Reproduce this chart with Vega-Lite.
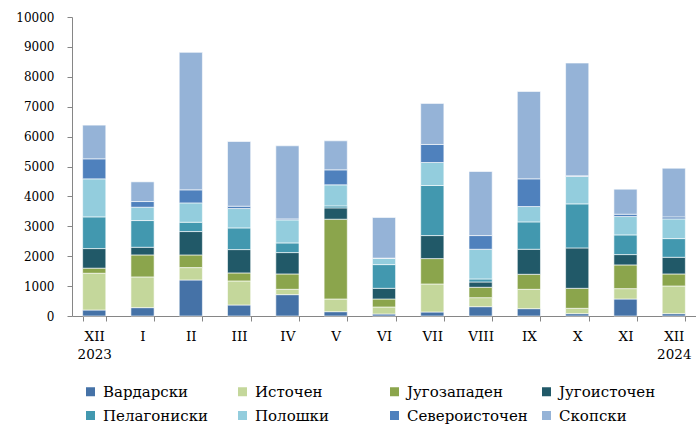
{
  "$schema": "https://vega.github.io/schema/vega-lite/v6.json",
  "width": 624,
  "height": 299,
  "padding": {"left": 15, "top": 11, "right": 0, "bottom": 0},
  "background": "white",
  "config": {
    "view": {"stroke": null},
    "font": "DejaVu Serif"
  },
  "data": {
    "values": [
      {"m":"XII 2023","r":"Вардарски","o":1,"v":200},{"m":"XII 2023","r":"Источен","o":2,"v":1230},{"m":"XII 2023","r":"Југозападен","o":3,"v":170},{"m":"XII 2023","r":"Југоисточен","o":4,"v":655},{"m":"XII 2023","r":"Пелагониски","o":5,"v":1060},{"m":"XII 2023","r":"Полошки","o":6,"v":1272},{"m":"XII 2023","r":"Североисточен","o":7,"v":670},{"m":"XII 2023","r":"Скопски","o":8,"v":1127},
      {"m":"I","r":"Вардарски","o":1,"v":280},{"m":"I","r":"Источен","o":2,"v":1026},{"m":"I","r":"Југозападен","o":3,"v":736},{"m":"I","r":"Југоисточен","o":4,"v":257},{"m":"I","r":"Пелагониски","o":5,"v":893},{"m":"I","r":"Полошки","o":6,"v":446},{"m":"I","r":"Североисточен","o":7,"v":190},{"m":"I","r":"Скопски","o":8,"v":659},
      {"m":"II","r":"Вардарски","o":1,"v":1205},{"m":"II","r":"Источен","o":2,"v":413},{"m":"II","r":"Југозападен","o":3,"v":424},{"m":"II","r":"Југоисточен","o":4,"v":782},{"m":"II","r":"Пелагониски","o":5,"v":312},{"m":"II","r":"Полошки","o":6,"v":647},{"m":"II","r":"Североисточен","o":7,"v":436},{"m":"II","r":"Скопски","o":8,"v":4598},
      {"m":"III","r":"Вардарски","o":1,"v":368},{"m":"III","r":"Источен","o":2,"v":804},{"m":"III","r":"Југозападен","o":3,"v":268},{"m":"III","r":"Југоисточен","o":4,"v":781},{"m":"III","r":"Пелагониски","o":5,"v":725},{"m":"III","r":"Полошки","o":6,"v":648},{"m":"III","r":"Североисточен","o":7,"v":78},{"m":"III","r":"Скопски","o":8,"v":2165},
      {"m":"IV","r":"Вардарски","o":1,"v":714},{"m":"IV","r":"Источен","o":2,"v":179},{"m":"IV","r":"Југозападен","o":3,"v":513},{"m":"IV","r":"Југоисточен","o":4,"v":715},{"m":"IV","r":"Пелагониски","o":5,"v":323},{"m":"IV","r":"Полошки","o":6,"v":770},{"m":"IV","r":"Североисточен","o":7,"v":34},{"m":"IV","r":"Скопски","o":8,"v":2444},
      {"m":"V","r":"Вардарски","o":1,"v":145},{"m":"V","r":"Источен","o":2,"v":424},{"m":"V","r":"Југозападен","o":3,"v":2668},{"m":"V","r":"Југоисточен","o":4,"v":379},{"m":"V","r":"Пелагониски","o":5,"v":67},{"m":"V","r":"Полошки","o":6,"v":703},{"m":"V","r":"Североисточен","o":7,"v":502},{"m":"V","r":"Скопски","o":8,"v":971},
      {"m":"VI","r":"Вардарски","o":1,"v":67},{"m":"VI","r":"Источен","o":2,"v":234},{"m":"VI","r":"Југозападен","o":3,"v":268},{"m":"VI","r":"Југоисточен","o":4,"v":357},{"m":"VI","r":"Пелагониски","o":5,"v":793},{"m":"VI","r":"Полошки","o":6,"v":212},{"m":"VI","r":"Североисточен","o":7,"v":5},{"m":"VI","r":"Скопски","o":8,"v":1361},
      {"m":"VII","r":"Вардарски","o":1,"v":134},{"m":"VII","r":"Источен","o":2,"v":937},{"m":"VII","r":"Југозападен","o":3,"v":849},{"m":"VII","r":"Југоисточен","o":4,"v":770},{"m":"VII","r":"Пелагониски","o":5,"v":1674},{"m":"VII","r":"Полошки","o":6,"v":770},{"m":"VII","r":"Североисточен","o":7,"v":603},{"m":"VII","r":"Скопски","o":8,"v":1372},
      {"m":"VIII","r":"Вардарски","o":1,"v":312},{"m":"VIII","r":"Источен","o":2,"v":302},{"m":"VIII","r":"Југозападен","o":3,"v":346},{"m":"VIII","r":"Југоисточен","o":4,"v":178},{"m":"VIII","r":"Пелагониски","o":5,"v":101},{"m":"VIII","r":"Полошки","o":6,"v":993},{"m":"VIII","r":"Североисточен","o":7,"v":458},{"m":"VIII","r":"Скопски","o":8,"v":2143},
      {"m":"IX","r":"Вардарски","o":1,"v":246},{"m":"IX","r":"Источен","o":2,"v":647},{"m":"IX","r":"Југозападен","o":3,"v":502},{"m":"IX","r":"Југоисточен","o":4,"v":837},{"m":"IX","r":"Пелагониски","o":5,"v":915},{"m":"IX","r":"Полошки","o":6,"v":514},{"m":"IX","r":"Североисточен","o":7,"v":926},{"m":"IX","r":"Скопски","o":8,"v":2924},
      {"m":"X","r":"Вардарски","o":1,"v":78},{"m":"X","r":"Источен","o":2,"v":179},{"m":"X","r":"Југозападен","o":3,"v":669},{"m":"X","r":"Југоисточен","o":4,"v":1351},{"m":"X","r":"Пелагониски","o":5,"v":1473},{"m":"X","r":"Полошки","o":6,"v":915},{"m":"X","r":"Североисточен","o":7,"v":23},{"m":"X","r":"Скопски","o":8,"v":3772},
      {"m":"XI","r":"Вардарски","o":1,"v":569},{"m":"XI","r":"Источен","o":2,"v":346},{"m":"XI","r":"Југозападен","o":3,"v":793},{"m":"XI","r":"Југоисточен","o":4,"v":346},{"m":"XI","r":"Пелагониски","o":5,"v":658},{"m":"XI","r":"Полошки","o":6,"v":614},{"m":"XI","r":"Североисточен","o":7,"v":78},{"m":"XI","r":"Скопски","o":8,"v":837},
      {"m":"XII 2024","r":"Вардарски","o":1,"v":78},{"m":"XII 2024","r":"Источен","o":2,"v":926},{"m":"XII 2024","r":"Југозападен","o":3,"v":402},{"m":"XII 2024","r":"Југоисточен","o":4,"v":558},{"m":"XII 2024","r":"Пелагониски","o":5,"v":625},{"m":"XII 2024","r":"Полошки","o":6,"v":659},{"m":"XII 2024","r":"Североисточен","o":7,"v":67},{"m":"XII 2024","r":"Скопски","o":8,"v":1629}
    ]
  },
  "mark": {"type": "bar", "stroke": "white", "strokeWidth": 0.6},
  "encoding": {
    "x": {
      "field": "m", "type": "nominal", "sort": null, "title": null,
      "scale": {"paddingInner": 0.52, "paddingOuter": 0.22},
      "axis": {
        "labelAngle": 0, "tickBand": "extent", "tickSize": 5,
        "domainColor": "#868686", "tickColor": "#868686",
        "labelFontSize": 13.5, "labelColor": "#000", "labelPadding": 8,
        "labelLineHeight": 18.5, "labelExpr": "split(datum.label, ' ')"
      }
    },
    "y": {
      "field": "v", "type": "quantitative", "stack": "zero", "title": null,
      "scale": {"domain": [0, 10000]},
      "axis": {
        "values": [0,1000,2000,3000,4000,5000,6000,7000,8000,9000,10000],
        "grid": false, "tickSize": 5, "domainColor": "#868686", "tickColor": "#868686",
        "labelFontSize": 12, "labelColor": "#000", "labelPadding": 13, "format": "d"
      }
    },
    "order": {"field": "o", "type": "quantitative"},
    "color": {
      "field": "r", "type": "nominal", "title": null,
      "scale": {
        "domain": ["Вардарски","Источен","Југозападен","Југоисточен","Пелагониски","Полошки","Североисточен","Скопски"],
        "range": ["#4572A7","#C4D79B","#8BA54C","#215968","#4298AF","#93CDDD","#4F81BD","#95B3D7"]
      },
      "legend": {
        "orient": "none", "legendX": 11, "legendY": 367, "direction": "horizontal",
        "columns": 4, "gridAlign": "all", "columnPadding": 11, "rowPadding": 8,
        "symbolType": "square", "symbolSize": 81, "symbolStrokeWidth": 0,
        "labelFontSize": 15, "labelColor": "#000", "labelOffset": 5, "padding": 0
      }
    }
  }
}
